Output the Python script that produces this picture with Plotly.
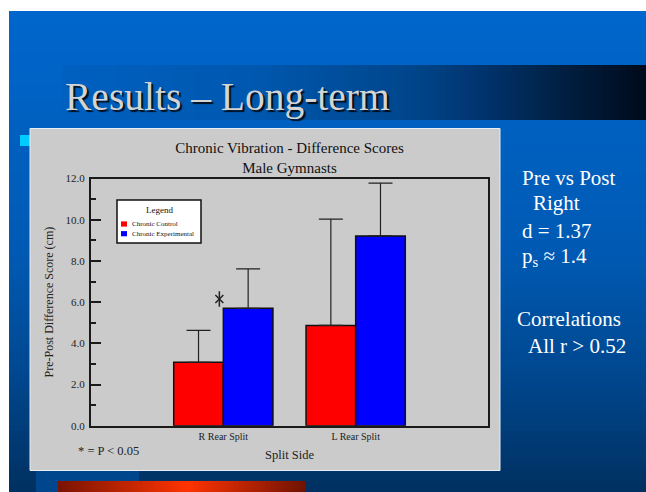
import plotly.graph_objects as go

# ---- data -------------------------------------------------------------
categories = ["R Rear Split", "L Rear Split"]
series_names = ["Chronic Control", "Chronic Experimental"]
series_colors = ["#FF0000", "#0000FF"]
control_mean = [3.08, 4.87]
control_err = [1.55, 5.16]
experimental_mean = [5.70, 9.21]
experimental_err = [1.91, 2.57]
y_ticks = [0, 2, 4, 6, 8, 10, 12]

side_notes = [
    ("Pre vs Post", 520, 184),
    ("Right", 531, 210),
    ("d = 1.37", 520, 237),
    ("p<sub>s</sub> \u2248 1.4", 520, 263),
    ("Correlations", 515, 325),
    ("All r > 0.52", 526, 352),
]

W, H = 646, 492
SERIF = "Liberation Serif, Times New Roman, serif"


def px(x):
    return x / W


def py(y):
    return 1 - y / H


def lerp_stops(stops, t):
    for (t0, c0), (t1, c1) in zip(stops, stops[1:]):
        if t0 <= t <= t1:
            f = 0 if t1 == t0 else (t - t0) / (t1 - t0)
            c = [round(a + (b - a) * f) for a, b in zip(c0, c1)]
            return "rgb(%d,%d,%d)" % tuple(c)
    c = stops[-1][1]
    return "rgb(%d,%d,%d)" % tuple(c)


shapes = []


def rect(x0, y0, x1, y1, fill, line_color=None, line_width=0, layer="below"):
    shapes.append(dict(
        type="rect", xref="paper", yref="paper",
        x0=px(x0), x1=px(x1), y0=py(y1), y1=py(y0),
        fillcolor=fill, layer=layer,
        line=dict(color=line_color or fill, width=line_width),
    ))


# slide background: vertical blue gradient
bg_stops = [(11, (0, 102, 204)), (250, (0, 90, 180)), (370, (0, 72, 145)), (492, (0, 48, 96))]
step = 6
y = 11
while y < H:
    rect(9, y, W, min(y + step + 1, H), lerp_stops(bg_stops, y + step / 2))
    y += step

# title band: horizontal gradient to near black
band_stops = [(62, (0, 96, 192)), (250, (0, 88, 176)), (410, (0, 70, 140)),
              (480, (0, 52, 110)), (560, (0, 32, 68)), (646, (0, 10, 28))]
x = 62
while x < W:
    rect(x, 65, min(x + step + 1, W), 120, lerp_stops(band_stops, x + step / 2))
    x += step

# small block and red bar at the bottom of the slide
rect(36, 470, 139, H, "#00468C")
red_stops = [(58, (120, 20, 0)), (187, (255, 51, 0)), (306, (110, 18, 0))]
x = 58
while x < 306:
    rect(x, 481, min(x + 5, 306), H, lerp_stops(red_stops, x + 2))
    x += 4

# bullet and chart panel
rect(20, 135, 34, 146, "#00CCFF")
rect(30, 128.5, 500, 470.5, "#CBCBCB", "#E6EEF6", 1)

# ---- chart ------------------------------------------------------------
fig = go.Figure()
for name, color, mean, err in [
    (series_names[0], series_colors[0], control_mean, control_err),
    (series_names[1], series_colors[1], experimental_mean, experimental_err),
]:
    fig.add_trace(go.Bar(
        name=name, x=list(range(len(categories))), y=mean,
        marker=dict(color=color, line=dict(color="#111111", width=1.5)),
        error_y=dict(type="data", array=err, arrayminus=[0] * len(err),
                     symmetric=False, color="#222222", thickness=1.2, width=12),
        showlegend=False,
    ))

# significance marker above the right-side experimental bar
SIG_DX, SIG_DY = -0.03, 0.45
for sym, size in [("x-thin-open", 8), ("line-ns-open", 11)]:
    fig.add_trace(go.Scatter(
        x=[0 + SIG_DX], y=[experimental_mean[0] + SIG_DY], mode="markers",
        marker=dict(symbol=sym, size=size, color="#222222",
                    line=dict(color="#222222", width=1.5)),
        showlegend=False, hoverinfo="skip",
    ))

annotations = []

# legend box drawn with the series names and colours
lx0, ly0, lx1, ly1 = 117, 200, 201, 243
rect(lx0, ly0, lx1, ly1, "#FFFFFF", "#111111", 1.5, layer="above")
annotations.append(dict(text="Legend", x=px((lx0 + lx1) / 2), y=py(210), xref="paper", yref="paper",
                        showarrow=False, xanchor="center", yanchor="middle",
                        font=dict(family=SERIF, size=9, color="#111111")))
for i, (name, color) in enumerate(zip(series_names, series_colors)):
    cy = 224 + i * 9.7
    rect(121, cy - 2.6, 127, cy + 2.6, color, layer="above")
    annotations.append(dict(text=name, x=px(130), y=py(cy), xref="paper", yref="paper",
                            showarrow=False, xanchor="left", yanchor="middle",
                            font=dict(family=SERIF, size=7, color="#111111")))

annotations.append(dict(text="* = P < 0.05", x=px(76), y=py(451), xref="paper", yref="paper",
                        showarrow=False, xanchor="left", yanchor="middle",
                        font=dict(family=SERIF, size=12.5, color="#222222")))

# slide heading
annotations.append(dict(text="Results \u2013 Long-term", x=px(63), y=py(97), xref="paper", yref="paper",
                        showarrow=False, xanchor="left", yanchor="middle",
                        font=dict(family=SERIF, size=39.5, color="#D4D4D4",
                                  shadow="2px 2px 1px rgba(0,0,0,0.85)")))

# notes to the right of the chart
for text, nx, base in side_notes:
    annotations.append(dict(text=text, x=px(nx), y=py(base - 6.5), xref="paper", yref="paper",
                            showarrow=False, xanchor="left", yanchor="middle",
                            font=dict(family=SERIF, size=21, color="#FFFFFF")))

fig.update_layout(
    width=W, height=H,
    margin=dict(l=0, r=0, t=0, b=0, pad=0, autoexpand=False),
    paper_bgcolor="#FFFFFF",
    plot_bgcolor="rgba(0,0,0,0)",
    barmode="group", bargap=0.25, bargroupgap=0,
    shapes=shapes,
    annotations=annotations,
    title=dict(text="Chronic Vibration - Difference Scores<br>Male Gymnasts",
               x=px(289.5), xanchor="center", xref="paper",
               y=py(153), yref="container", yanchor="middle",
               font=dict(family=SERIF, size=15, color="#111111")),
    xaxis=dict(
        domain=[px(91), px(488)], range=[-1, 2], automargin=False,
        tickvals=list(range(len(categories))), ticktext=categories,
        showgrid=False, zeroline=False, ticks="",
        showline=True, mirror=True, linecolor="#1A1A1A", linewidth=2,
        tickfont=dict(family=SERIF, size=10, color="#222222"),
        title=dict(text="Split Side", standoff=10,
                   font=dict(family=SERIF, size=12.5, color="#222222")),
    ),
    yaxis=dict(
        domain=[py(425.7), py(178.5)], range=[0, 12], automargin=False,
        tickvals=y_ticks, tickformat=".1f", ticklabelstandoff=2,
        showgrid=False, zeroline=False,
        ticks="inside", ticklen=10, tickwidth=1.5, tickcolor="#1A1A1A",
        minor=dict(ticks="inside", ticklen=5, dtick=1, tickwidth=1.5, tickcolor="#1A1A1A", showgrid=False),
        showline=True, mirror=True, linecolor="#1A1A1A", linewidth=2,
        tickfont=dict(family=SERIF, size=11, color="#222222"),
        title=dict(text="Pre-Post Difference Score (cm)", standoff=9,
                   font=dict(family=SERIF, size=12, color="#222222")),
    ),
)

fig.write_html("out.html")
